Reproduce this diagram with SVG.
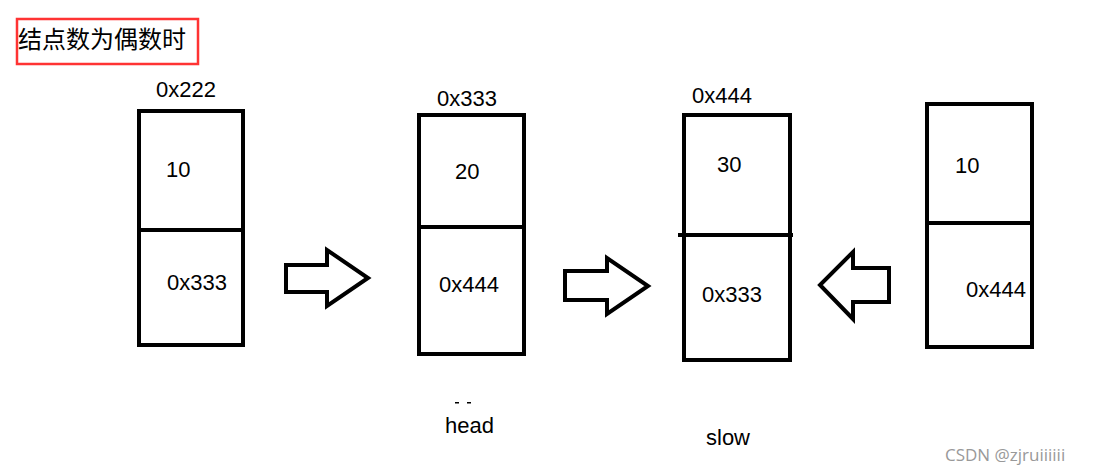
<svg xmlns="http://www.w3.org/2000/svg" width="1095" height="476" viewBox="0 0 1095 476">
<style>
.box{fill:none;stroke:#000;stroke-width:4}
.div{stroke:#000;stroke-width:4}
.arr{fill:#fff;stroke:#000;stroke-width:4;stroke-linejoin:miter}
.t{font-family:"Liberation Sans",Arial,sans-serif;font-size:22px;fill:#000}
.cn{font-family:"Noto Sans CJK SC","Liberation Sans",sans-serif;font-size:24px;fill:#000}
.wm{font-family:"Open Sans","Noto Sans",sans-serif;font-size:17px;fill:#999}
</style>
<rect width="1095" height="476" fill="#fff"/>
<g id="title">
<rect x="17" y="19" width="181" height="45" fill="none" stroke="#f33" stroke-width="2.5"/>
<text class="cn" x="18" y="48">结点数为偶数时</text>
</g>
<g id="node1">
<rect class="box" x="139" y="111" width="104" height="234"/>
<line class="div" x1="139" y1="230" x2="243" y2="230"/>
<text class="t" x="156" y="97">0x222</text>
<text class="t" x="166" y="177">10</text>
<text class="t" x="167" y="290">0x333</text>
</g>
<g id="node2">
<rect class="box" x="419" y="115" width="105" height="239"/>
<line class="div" x1="419" y1="227" x2="524" y2="227"/>
<text class="t" x="437" y="106">0x333</text>
<text class="t" x="455" y="179">20</text>
<text class="t" x="439" y="292">0x444</text>
</g>
<g id="node3">
<rect class="box" x="684" y="115" width="106" height="245"/>
<line class="div" x1="678" y1="235" x2="793" y2="235"/>
<text class="t" x="692" y="103">0x444</text>
<text class="t" x="717" y="172">30</text>
<text class="t" x="702" y="302">0x333</text>
</g>
<g id="node4">
<rect class="box" x="927" y="104" width="105" height="243"/>
<line class="div" x1="927" y1="223" x2="1032" y2="223"/>
<text class="t" x="955" y="173">10</text>
<text class="t" x="966" y="297">0x444</text>
</g>
<g id="connectors">
<polygon class="arr" points="286,265 327,265 327,250 368,278 327,306 327,292 286,292"/>
<polygon class="arr" points="565,271 607,271 607,258 648,286 607,314 607,300 565,300"/>
<polygon class="arr" points="889,268 853,268 853,252 820,285 853,319 853,302 889,302"/>
</g>
<g id="labels">
<rect x="455" y="402" width="4" height="1.5" fill="#000"/>
<rect x="467" y="402" width="4" height="1.5" fill="#000"/>
<text class="t" x="445" y="433">head</text>
<text class="t" x="706" y="445">slow</text>
</g>
<text class="wm" x="945" y="461">CSDN @zjruiiiiii</text>
</svg>
